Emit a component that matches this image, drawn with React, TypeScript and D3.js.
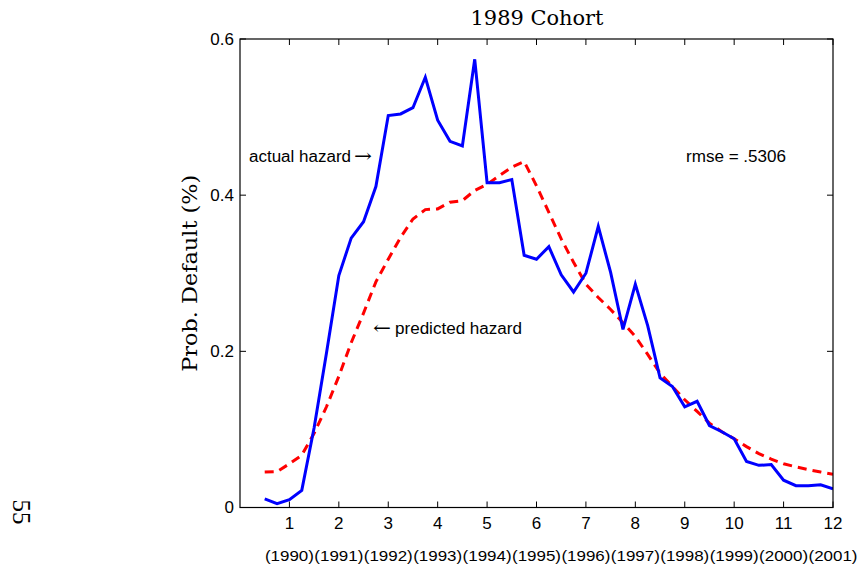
import React from "react";
import * as d3 from "d3";

const quarters = [
  0.5, 0.75, 1.0, 1.25, 1.5, 1.75, 2.0, 2.25, 2.5, 2.75, 3.0, 3.25,
  3.5, 3.75, 4.0, 4.25, 4.5, 4.75, 5.0, 5.25, 5.5, 5.75, 6.0, 6.25,
  6.5, 6.75, 7.0, 7.25, 7.5, 7.75, 8.0, 8.25, 8.5, 8.75, 9.0, 9.25,
  9.5, 9.75, 10.0, 10.25, 10.5, 10.75, 11.0, 11.25, 11.5, 11.75, 12.0,
];

const actualHazard = [
  0.011, 0.005, 0.010, 0.022, 0.102, 0.198, 0.297, 0.345, 0.366, 0.411, 0.502, 0.504,
  0.512, 0.551, 0.496, 0.469, 0.463, 0.574, 0.416, 0.416, 0.420, 0.323, 0.318, 0.334,
  0.298, 0.276, 0.300, 0.360, 0.301, 0.228, 0.286, 0.233, 0.166, 0.155, 0.129, 0.136,
  0.105, 0.097, 0.088, 0.059, 0.054, 0.055, 0.035, 0.028, 0.028, 0.029, 0.024,
];

const predictedHazard = [
  0.0455, 0.046, 0.056, 0.067, 0.095, 0.129, 0.168, 0.211, 0.249, 0.289, 0.318, 0.346,
  0.3695, 0.3815, 0.3824, 0.391, 0.393, 0.406, 0.414, 0.425, 0.436, 0.443, 0.412, 0.378,
  0.344, 0.314, 0.286, 0.269, 0.2536, 0.2365, 0.219, 0.196, 0.172, 0.155, 0.138, 0.123,
  0.108, 0.097, 0.088, 0.078, 0.069, 0.062, 0.056, 0.052, 0.0485, 0.0455, 0.0425,
];

const xTicks = [1, 2, 3, 4, 5, 6, 7, 8, 9, 10, 11, 12];
const yearLabels = [
  "(1990)", "(1991)", "(1992)", "(1993)", "(1994)", "(1995)",
  "(1996)", "(1997)", "(1998)", "(1999)", "(2000)", "(2001)",
];
const yTicks = [0, 0.2, 0.4, 0.6];
const yTickLabels = ["0", "0.2", "0.4", "0.6"];

const title = "1989 Cohort";
const yLabel = "Prob. Default (%)";
const pageNumber = "55";
const actualNote = "actual hazard";
const predictedNote = "predicted hazard";
const rightArrow = "\u2192";
const leftArrow = "\u2190";
const rmseNote = "rmse = .5306";

const W = 861;
const H = 572;
const L = 240;
const R = 833;
const T = 39;
const B = 507.5;

const sans = "'Liberation Sans', Arial, Helvetica, sans-serif";
const serif = "'DejaVu Serif', 'Liberation Serif', serif";
const arrowFont = "'DejaVu Serif', 'DejaVu Sans', serif";

export default function App() {
  const x = d3.scaleLinear().domain([0, 12]).range([L, R]);
  const y = d3.scaleLinear().domain([0, 0.6]).range([B, T]);

  const line = d3
    .line<number>()
    .x((_, i) => x(quarters[i]))
    .y((d) => y(d));

  const tickLen = 6;

  return (
    <svg
      width={W}
      height={H}
      style={{ position: "absolute", left: 0, top: 0, background: "#fff" }}
    >
      <rect x={0} y={0} width={W} height={H} fill="#fff" />
      <defs>
        <clipPath id="plotclip">
          <rect x={L} y={T} width={R - L} height={B - T} />
        </clipPath>
      </defs>

      {/* title */}
      <text
        x={537}
        y={25}
        textAnchor="middle"
        fontFamily={serif}
        fontSize={20}
        textLength={133}
        lengthAdjust="spacingAndGlyphs"
        fill="#000"
      >
        {title}
      </text>

      {/* y label */}
      <text
        transform={`translate(197, ${(T + B) / 2}) rotate(-90)`}
        textAnchor="middle"
        fontFamily={serif}
        fontSize={21}
        textLength={197}
        lengthAdjust="spacingAndGlyphs"
        fill="#000"
      >
        {yLabel}
      </text>

      {/* page number */}
      <text
        transform="translate(21, 512) rotate(90)"
        textAnchor="middle"
        dominantBaseline="central"
        fontFamily="'Liberation Serif', 'DejaVu Serif', serif"
        fontSize={25}
        fill="#000"
      >
        {pageNumber}
      </text>

      {/* lines */}
      <g clipPath="url(#plotclip)">
        <path
          d={line(predictedHazard) || ""}
          fill="none"
          stroke="#ff0000"
          strokeWidth={3}
          strokeDasharray="9,6"
        />
        <path
          d={line(actualHazard) || ""}
          fill="none"
          stroke="#0000ff"
          strokeWidth={3}
          strokeLinejoin="miter"
        />
      </g>

      {/* frame */}
      <rect x={L} y={T} width={R - L} height={B - T} fill="none" stroke="#000" strokeWidth={1.2} />

      {/* x ticks */}
      {xTicks.map((t, i) => (
        <g key={"xt" + t}>
          <line x1={x(t)} x2={x(t)} y1={B} y2={B - tickLen} stroke="#000" strokeWidth={1} />
          <line x1={x(t)} x2={x(t)} y1={T} y2={T + tickLen} stroke="#000" strokeWidth={1} />
          <text
            x={x(t)}
            y={523}
            textAnchor="middle"
            dominantBaseline="central"
            fontFamily={sans}
            fontSize={17}
            fill="#000"
          >
            {t}
          </text>
          <text
            x={x(t)}
            y={555}
            textAnchor="middle"
            dominantBaseline="central"
            fontFamily={sans}
            fontSize={15}
            textLength={49}
            lengthAdjust="spacingAndGlyphs"
            fill="#000"
          >
            {yearLabels[i]}
          </text>
        </g>
      ))}

      {/* y ticks */}
      {yTicks.map((v, i) => (
        <g key={"yt" + v}>
          <line x1={L} x2={L + tickLen} y1={y(v)} y2={y(v)} stroke="#000" strokeWidth={1} />
          <line x1={R} x2={R - tickLen} y1={y(v)} y2={y(v)} stroke="#000" strokeWidth={1} />
          <text
            x={234}
            y={y(v)}
            textAnchor="end"
            dominantBaseline="central"
            fontFamily={sans}
            fontSize={17}
            fill="#000"
          >
            {yTickLabels[i]}
          </text>
        </g>
      ))}

      {/* annotations */}
      <text x={249} y={162} fontFamily={sans} fontSize={16} textLength={102} lengthAdjust="spacingAndGlyphs" fill="#000">
        {actualNote}
      </text>
      <text x={354} y={162} fontFamily={arrowFont} fontSize={18} textLength={18} lengthAdjust="spacingAndGlyphs" fill="#000">
        {rightArrow}
      </text>
      <text x={373} y={334} fontFamily={arrowFont} fontSize={18} textLength={18} lengthAdjust="spacingAndGlyphs" fill="#000">
        {leftArrow}
      </text>
      <text x={395} y={334} fontFamily={sans} fontSize={16} textLength={127} lengthAdjust="spacingAndGlyphs" fill="#000">
        {predictedNote}
      </text>
      <text x={686} y={162} fontFamily={sans} fontSize={16} textLength={100} lengthAdjust="spacingAndGlyphs" fill="#000">
        {rmseNote}
      </text>
    </svg>
  );
}
